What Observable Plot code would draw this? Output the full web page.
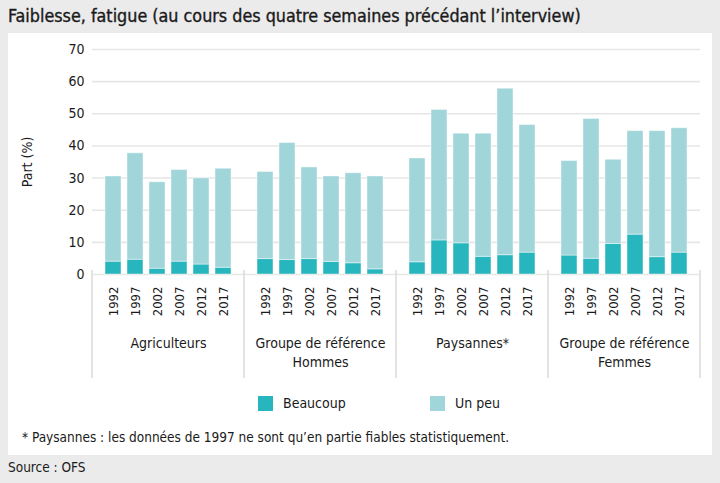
<!DOCTYPE html>
<html><head><meta charset="utf-8">
<script src="https://cdn.jsdelivr.net/npm/d3@7"></script>
<script src="https://cdn.jsdelivr.net/npm/@observablehq/plot@0.6"></script>
<style>
body{margin:0;}
#root{position:relative;width:720px;height:483px;background:#ebebeb;font-family:"Liberation Sans Narrow","DejaVu Sans Condensed","Roboto Condensed",Roboto,sans-serif;color:#1a1a1a;overflow:hidden}
#title{position:absolute;left:8px;top:5px;font-size:17.8px;white-space:nowrap;-webkit-text-stroke:0.35px #1a1a1a}
#panel{position:absolute;left:8px;top:33px;width:704px;height:422px;background:#fff}
#chart{position:absolute;left:0;top:0}
.leg{position:absolute;top:362px;font-size:14px;display:flex;align-items:center;white-space:nowrap}
.sw{width:15px;height:15px;margin-right:10px}
#note{position:absolute;left:14px;top:396px;font-size:13.5px;white-space:nowrap}
#source{position:absolute;left:8px;top:459px;font-size:13.5px;white-space:nowrap}
</style></head>
<body>
<div id="root">
  <div id="title">Faiblesse, fatigue (au cours des quatre semaines précédant l’interview)</div>
  <div id="panel">
    <div id="chart"></div>
    <div class="leg" id="leg1" style="left:250px"></div>
    <div class="leg" id="leg2" style="left:422px"></div>
    <div id="note">* Paysannes : les données de 1997 ne sont qu’en partie fiables statistiquement.</div>
  </div>
  <div id="source">Source : OFS</div>
</div>
<script>
const FONT = '"Liberation Sans Narrow","DejaVu Sans Condensed","Roboto Condensed",Roboto,sans-serif';
const groups = ["Agriculteurs", "Groupe de référence\nHommes", "Paysannes*", "Groupe de référence\nFemmes"];
const years = ["1992", "1997", "2002", "2007", "2012", "2017"];
const seriesNames = ["Beaucoup", "Un peu"];
const seriesColors = ["#27b6bd", "#a0d5d9"];
const yTicks = [0, 10, 20, 30, 40, 50, 60, 70];

const agriBeaucoup   = [4.0, 4.6, 1.8, 4.0, 3.1, 2.1];
const agriUnPeu      = [26.5, 33.1, 26.9, 28.5, 26.8, 30.8];
const hommesBeaucoup = [4.8, 4.5, 4.8, 3.9, 3.5, 1.6];
const hommesUnPeu    = [27.1, 36.4, 28.5, 26.6, 28.0, 28.9];
const paysBeaucoup   = [3.8, 10.6, 9.7, 5.5, 6.0, 6.8];
const paysUnPeu      = [32.3, 40.6, 34.1, 38.3, 51.8, 39.7];
const femmesBeaucoup = [5.9, 4.9, 9.5, 12.4, 5.4, 6.8];
const femmesUnPeu    = [29.4, 43.5, 26.2, 32.2, 39.2, 38.7];

const beaucoupByGroup = [agriBeaucoup, hommesBeaucoup, paysBeaucoup, femmesBeaucoup];
const unPeuByGroup = [agriUnPeu, hommesUnPeu, paysUnPeu, femmesUnPeu];

const rows = [];
groups.forEach((g, gi) => {
  years.forEach((yr, i) => {
    rows.push({group: g, year: yr, series: seriesNames[0], value: beaucoupByGroup[gi][i]});
    rows.push({group: g, year: yr, series: seriesNames[1], value: unPeuByGroup[gi][i]});
  });
});

const plot = Plot.plot({
  width: 704, height: 352,
  marginLeft: 82, marginRight: 11, marginTop: 16, marginBottom: 111,
  style: {fontFamily: FONT, fontSize: "13px", color: "#1a1a1a", background: "transparent", overflow: "visible"},
  fx: {domain: groups, padding: 0},
  x: {domain: years, paddingInner: 0.28, paddingOuter: 0.57},
  y: {domain: [0, 70]},
  color: {domain: seriesNames, range: seriesColors},
  marks: [
    Plot.gridY(yTicks, {stroke: "#e6e6e6", strokeOpacity: 1, strokeWidth: 1.6}),
    Plot.barY(rows, {fx: "group", x: "year", y: "value", fill: "series", stroke: "#ffffff", strokeOpacity: 0.45, strokeWidth: 1}),
    Plot.axisY(yTicks, {tickSize: 0, tickPadding: 8, label: "Part (%)", labelAnchor: "center", labelArrow: "none", labelOffset: 70, fontSize: 14}),
    Plot.axisX({tickRotate: -90, tickSize: 0, tickPadding: 12, label: null, fontSize: 13}),
    Plot.axisFx({anchor: "bottom", tickSize: 0, tickPadding: 60, label: null, fontSize: 14, lineHeight: 1.35})
  ]
});
document.getElementById("chart").appendChild(plot);

// group separators derived from the fx and y scales
const fx = plot.scale("fx");
const ys = plot.scale("y");
const y0 = ys.apply(0);
const edges = groups.map(g => fx.apply(g));
edges.push(fx.apply(groups[groups.length - 1]) + fx.bandwidth);
const sep = d3.select(plot).append("g").attr("stroke", "#dcdcdc").attr("stroke-width", 1.6);
edges.forEach(x => sep.append("line").attr("x1", x).attr("x2", x).attr("y1", y0 - 4).attr("y2", y0 + 104));

// legend
[["leg1", 0], ["leg2", 1]].forEach(([id, i]) => {
  const el = document.getElementById(id);
  el.innerHTML = `<span class="sw" style="background:${seriesColors[i]}"></span><span>${seriesNames[i]}</span>`;
});
</script>
</body></html>
